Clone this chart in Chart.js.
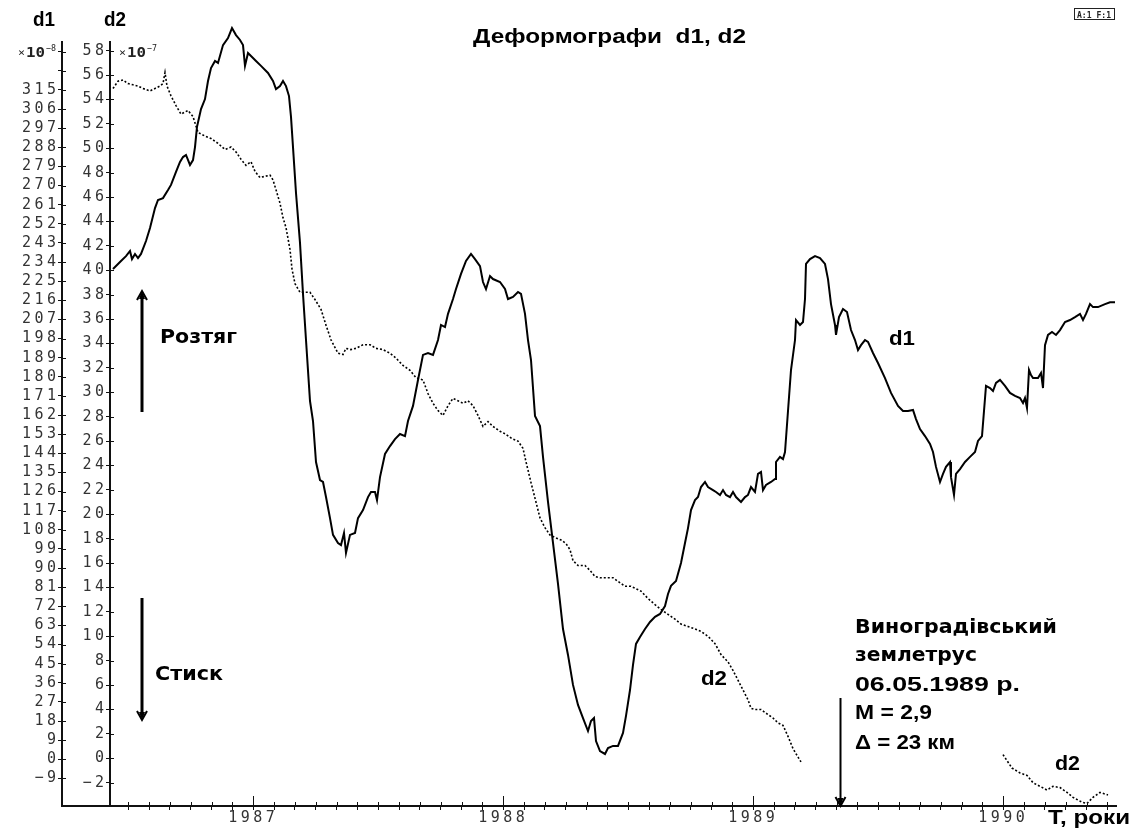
<!DOCTYPE html>
<html lang="uk">
<head>
<meta charset="utf-8">
<title>Деформографи d1, d2</title>
<script src="https://cdn.jsdelivr.net/npm/chart.js@4.4.1/dist/chart.umd.min.js"></script>
<style>
html, body { margin:0; padding:0; background:#fff; }
#wrap { width:1133px; height:832px; }
</style>
</head>
<body>
<div id="wrap"><canvas id="grafico" width="1133" height="832"></canvas></div>
<script>
// ==========================
// DADOS
// ==========================
const d1Years = [
    1986.439,1986.471,1986.491,1986.507,1986.515,1986.527,1986.539,1986.551,1986.571,1986.587,
    1986.607,1986.619,1986.639,1986.659,1986.671,1986.691,1986.707,1986.719,1986.731,1986.747,
    1986.759,1986.767,1986.775,1986.791,1986.807,1986.819,1986.831,1986.847,1986.859,1986.879,
    1986.899,1986.915,1986.931,1986.947,1986.959,1986.967,1986.979,1986.991,1987.011,1987.031,
    1987.059,1987.079,1987.091,1987.107,1987.119,1987.131,1987.143,1987.151,1987.159,1987.171,
    1987.187,1987.199,1987.211,1987.227,1987.239,1987.251,1987.267,1987.279,1987.291,1987.307,
    1987.319,1987.339,1987.351,1987.363,1987.371,1987.387,1987.407,1987.419,1987.439,1987.459,
    1987.471,1987.487,1987.495,1987.507,1987.527,1987.547,1987.567,1987.587,1987.607,1987.619,
    1987.639,1987.659,1987.679,1987.699,1987.719,1987.739,1987.751,1987.767,1987.779,1987.799,
    1987.811,1987.831,1987.851,1987.871,1987.887,1987.907,1987.919,1987.931,1987.947,1987.959,
    1987.987,1988.007,1988.019,1988.039,1988.059,1988.071,1988.087,1988.099,1988.111,1988.127,
    1988.147,1988.159,1988.179,1988.199,1988.219,1988.239,1988.259,1988.279,1988.299,1988.319,
    1988.339,1988.351,1988.363,1988.371,1988.387,1988.407,1988.419,1988.439,1988.459,1988.479,
    1988.491,1988.507,1988.519,1988.531,1988.547,1988.567,1988.587,1988.607,1988.627,1988.647,
    1988.659,1988.671,1988.691,1988.711,1988.727,1988.739,1988.751,1988.767,1988.779,1988.791,
    1988.807,1988.819,1988.839,1988.851,1988.867,1988.879,1988.891,1988.907,1988.919,1988.931,
    1988.951,1988.967,1988.979,1988.991,1989.007,1989.019,1989.031,1989.039,1989.051,1989.071,
    1989.087,1989.091,1989.107,1989.119,1989.127,1989.139,1989.151,1989.167,1989.171,1989.187,
    1989.199,1989.207,1989.211,1989.227,1989.247,1989.267,1989.287,1989.299,1989.311,1989.327,
    1989.331,1989.343,1989.359,1989.375,1989.391,1989.407,1989.419,1989.431,1989.447,1989.459,
    1989.479,1989.499,1989.527,1989.551,1989.579,1989.599,1989.619,1989.639,1989.651,1989.667,
    1989.687,1989.707,1989.719,1989.731,1989.747,1989.759,1989.771,1989.787,1989.791,1989.803,
    1989.811,1989.827,1989.847,1989.867,1989.887,1989.899,1989.915,1989.923,1989.931,1989.947,
    1989.959,1989.971,1989.987,1990.007,1990.027,1990.047,1990.067,1990.079,1990.087,1990.095,
    1990.103,1990.111,1990.119,1990.139,1990.151,1990.159,1990.167,1990.179,1990.195,1990.211,
    1990.227,1990.247,1990.267,1990.287,1990.307,1990.319,1990.331,1990.347,1990.359,1990.379,
    1990.407,1990.427,1990.447
];

const d1Values = [
    230.7,234.5,236.8,239.2,235.4,237.8,235.9,237.8,243.9,250.0,
    259.4,263.2,264.1,267.9,270.3,276.4,281.1,283.4,284.4,279.7,
    282.0,288.1,297.6,306.0,310.7,319.2,325.3,328.6,327.7,336.1,
    339.4,344.1,340.8,338.5,336.1,326.3,332.4,331.0,328.6,326.3,
    323.0,319.2,315.4,316.8,319.2,316.8,312.1,302.3,288.1,266.5,
    243.0,219.0,197.3,168.6,159.2,139.9,131.4,130.5,123.4,113.5,
    105.6,101.8,100.8,106.5,97.1,105.6,106.5,113.5,117.3,123.4,
    125.8,125.8,122.0,132.8,143.7,147.4,150.7,153.1,152.1,159.2,
    166.3,178.5,190.3,191.2,190.3,197.3,204.4,203.4,209.6,216.6,
    221.3,228.4,234.5,237.8,235.4,232.1,224.6,221.3,227.4,226.0,
    224.6,221.3,216.6,217.6,219.9,219.0,209.6,197.3,187.9,161.6,
    156.8,142.3,121.1,101.8,82.5,61.3,49.1,35.0,25.6,19.4,
    13.3,18.0,19.4,8.6,3.9,2.5,5.3,6.3,6.3,12.4,
    20.4,32.6,44.4,54.3,57.6,61.3,64.6,67.0,68.4,72.1,
    77.8,81.6,83.9,92.4,101.8,108.8,117.3,122.0,123.4,128.1,
    130.5,128.1,126.7,125.8,124.4,126.7,124.4,123.4,125.8,123.4,
    121.1,123.4,124.4,128.1,125.8,134.3,135.2,126.7,129.1,130.5,
    131.9,139.9,142.3,141.3,144.6,163.9,183.2,197.3,206.7,204.4,
    205.8,216.6,233.1,235.4,236.8,235.9,233.1,226.0,214.2,204.4,
    199.7,208.1,211.9,210.5,202.0,197.3,192.6,194.9,197.3,196.4,
    191.2,186.5,179.4,172.4,166.3,163.9,163.9,164.4,160.1,155.4,
    152.1,148.4,144.6,137.6,130.5,134.3,137.6,139.9,132.8,124.4,
    134.3,136.6,139.9,142.3,144.6,149.8,152.1,163.9,175.7,174.7,
    173.3,177.1,178.5,175.7,172.4,171.0,170.0,167.7,170.0,165.3,
    183.2,180.8,179.4,179.4,181.8,174.7,194.9,199.7,201.1,199.7,
    202.0,205.8,206.7,208.1,209.6,206.7,209.6,214.2,212.8,212.8,
    214.2,215.1,215.1
];

const d2Years = [
    1986.439,1986.459,1986.479,1986.499,1986.519,1986.539,1986.559,1986.587,1986.607,1986.627,
    1986.639,1986.647,1986.655,1986.671,1986.691,1986.711,1986.739,1986.759,1986.779,1986.807,
    1986.831,1986.859,1986.887,1986.911,1986.931,1986.951,1986.971,1986.991,1987.007,1987.027,
    1987.047,1987.067,1987.079,1987.091,1987.107,1987.119,1987.131,1987.147,1987.155,1987.167,
    1987.187,1987.207,1987.227,1987.247,1987.271,1987.291,1987.311,1987.339,1987.359,1987.371,
    1987.391,1987.411,1987.439,1987.467,1987.491,1987.519,1987.547,1987.571,1987.599,1987.627,
    1987.651,1987.679,1987.699,1987.719,1987.739,1987.759,1987.779,1987.799,1987.819,1987.839,
    1987.859,1987.879,1987.899,1987.919,1987.939,1987.959,1987.987,1988.007,1988.035,1988.059,
    1988.079,1988.091,1988.111,1988.131,1988.147,1988.167,1988.187,1988.207,1988.231,1988.251,
    1988.267,1988.279,1988.299,1988.327,1988.347,1988.367,1988.387,1988.411,1988.439,1988.459,
    1988.487,1988.511,1988.531,1988.551,1988.579,1988.607,1988.631,1988.659,1988.687,1988.711,
    1988.739,1988.767,1988.791,1988.819,1988.847,1988.871,1988.899,1988.919,1988.939,1988.959,
    1988.979,1988.991,1989.007,1989.031,1989.051,1989.079,1989.099,1989.119,1989.139,1989.159,
    1989.179,1989.191,
    1989.600,
    1989.999,1990.035,1990.067,1990.095,1990.119,1990.147,1990.175,1990.199,1990.227,1990.255,
    1990.279,1990.315,1990.335,1990.359,1990.387,1990.419
];

const d2Values = [
    54.9,55.5,55.6,55.3,55.2,55.1,54.9,54.7,54.9,55.1,
    55.3,56.2,55.1,54.3,53.5,52.8,53.1,52.6,51.3,51.0,
    50.8,50.4,49.9,50.1,49.7,49.1,48.6,48.9,48.1,47.6,
    47.7,47.8,47.4,46.6,45.5,44.3,43.5,41.7,40.1,38.9,
    38.2,38.2,38.2,37.6,36.8,35.5,34.3,33.2,33.1,33.6,
    33.5,33.6,33.9,33.9,33.6,33.5,33.2,32.8,32.2,31.8,
    31.2,31.0,29.9,29.1,28.5,28.1,28.9,29.5,29.3,29.1,
    29.3,28.9,28.1,27.2,27.6,27.2,26.8,26.6,26.2,26.0,
    25.4,24.3,22.6,21.0,19.7,18.9,18.3,18.1,17.9,17.6,
    17.1,16.2,15.8,15.8,15.4,14.9,14.8,14.8,14.8,14.5,
    14.1,14.1,13.9,13.7,13.1,12.6,12.2,11.8,11.4,11.0,
    10.8,10.6,10.4,10.0,9.4,8.5,7.9,7.2,6.4,5.6,
    4.8,4.1,4.0,4.0,3.7,3.3,2.9,2.7,1.8,0.8,
    0.1,-0.3,
    null,
    0.3,-0.8,-1.2,-1.4,-2.0,-2.3,-2.6,-2.3,-2.4,-2.8,
    -3.2,-3.6,-3.7,-3.2,-2.8,-3.0
];

const yearLabels = [1987, 1988, 1989, 1990];

const d1TickValues = [
    -9,0,9,18,27,36,45,54,63,72,81,90,99,108,117,126,135,144,153,
    162,171,180,189,198,207,216,225,234,243,252,261,270,279,288,297,306,315,
    324,333
];

const d2TickValues = [
    -2,0,2,4,6,8,10,12,14,16,18,20,22,24,26,28,
    30,32,34,36,38,40,42,44,46,48,50,52,54,56,58
];

// 06.05.1989
const quakeDate = 1989.345;

// ==========================
// AUXILIARES
// ==========================
const fonteTicks = { family:"'DejaVu Sans Mono', monospace", size:15 };

function ehAno(v){
    return Math.abs(v - Math.round(v)) < 1e-6;
}

function mesesTicks(){
    // marcas mensais de jul/1986 a mai/1990
    const lista = [];
    for(let m = 6; m <= 53; m++){
        lista.push({ value: 1986 + m / 12 });
    }
    return lista;
}

// texto esticado na horizontal ate a largura pedida
function texto(ctx, str, x, y, font, largura){
    ctx.save();
    ctx.font = font;
    const w = ctx.measureText(str).width;
    const sx = largura ? largura / w : 1;
    ctx.translate(x, y);
    ctx.scale(sx, 1);
    ctx.textAlign = "left";
    ctx.textBaseline = "alphabetic";
    ctx.fillText(str, 0, 0);
    ctx.restore();
}

// "×10" com expoente
function potencia(ctx, exp, x, y){
    ctx.save();
    ctx.fillStyle = "#222";
    texto(ctx, "×", x, y, "10px 'DejaVu Sans Mono', monospace", 7);
    texto(ctx, "10", x + 8, y + 1, "bold 14px 'DejaVu Sans Mono', monospace", 19);
    texto(ctx, exp, x + 28, y - 5, "9px 'DejaVu Sans Mono', monospace", 10);
    ctx.restore();
}

function seta(ctx, x, y0, y1, lw){
    const dir = Math.sign(y1 - y0);
    ctx.save();
    ctx.strokeStyle = "#000";
    ctx.fillStyle = "#000";
    ctx.lineWidth = lw;
    ctx.beginPath();
    ctx.moveTo(x, y0);
    ctx.lineTo(x, y1 - dir * 3);
    ctx.stroke();
    ctx.lineWidth = 2;
    ctx.beginPath();
    ctx.moveTo(x - 5, y1 - dir * 9);
    ctx.lineTo(x, y1);
    ctx.lineTo(x + 5, y1 - dir * 9);
    ctx.stroke();
    ctx.beginPath();
    ctx.moveTo(x, y1);
    ctx.lineTo(x - 3, y1 - dir * 8);
    ctx.lineTo(x + 3, y1 - dir * 8);
    ctx.closePath();
    ctx.fill();
    ctx.restore();
}

// ==========================
// PLUGIN DESENHO
// ==========================
const desenho = {
    id: "desenho",

    beforeDraw(chart){
        chart.ctx.letterSpacing = "3.5px";
    },

    afterDraw(chart){

        const ctx = chart.ctx;
        ctx.letterSpacing = "0px";

        const { x, d1, d2 } = chart.scales;
        const area = chart.chartArea;

        ctx.save();
        ctx.strokeStyle = "#111";
        ctx.lineWidth = 1;

        // metade interna das marcas (cruz)
        [d1, d2].forEach(s => {
            s.ticks.forEach(t => {
                const y = Math.round(s.getPixelForValue(t.value)) + 0.5;
                ctx.beginPath();
                ctx.moveTo(s.right, y);
                ctx.lineTo(s.right + 4, y);
                ctx.stroke();
            });
        });

        x.ticks.forEach(t => {
            const px = Math.round(x.getPixelForValue(t.value)) + 0.5;
            const h = ehAno(t.value) ? 10 : 4;
            ctx.beginPath();
            ctx.moveTo(px, area.bottom);
            ctx.lineTo(px, area.bottom - h);
            ctx.stroke();
        });

        // eixo x continua ate o eixo d1
        ctx.lineWidth = 2;
        ctx.beginPath();
        ctx.moveTo(d1.right - 1, area.bottom);
        ctx.lineTo(area.left, area.bottom);
        ctx.stroke();
        ctx.restore();

        ctx.fillStyle = "#000";

        const negrito = "bold 20px 'Liberation Sans', Arial, sans-serif";
        const largo = "bold 19px 'DejaVu Sans', sans-serif";

        // titulos
        texto(ctx, "Деформографи  d1, d2", 473, 43, "bold 21px 'Liberation Sans', Arial, sans-serif", 273);
        texto(ctx, "d1", 33, 26, negrito, 22);
        texto(ctx, "d2", 104, 26, negrito, 22);

        // multiplicadores das escalas
        potencia(ctx, "−8", 18, 56);
        potencia(ctx, "−7", 119, 56);

        // caixa A:1 F:1
        ctx.save();
        ctx.strokeStyle = "#222";
        ctx.lineWidth = 1;
        ctx.strokeRect(1074.5, 8.5, 40, 11);
        ctx.restore();
        ctx.fillStyle = "#222";
        texto(ctx, "A:1 F:1", 1077, 17.5, "bold 9px 'DejaVu Sans Mono', monospace", 34);

        ctx.fillStyle = "#000";

        // setas Розтяг / Стиск
        seta(ctx, 142, 412, 291, 3);
        texto(ctx, "Розтяг", 160, 343, largo, 77);

        seta(ctx, 142, 598, 720, 3);
        texto(ctx, "Стиск", 155, 680, largo, 68);

        // rotulos das curvas
        texto(ctx, "d1", 889, 345, negrito, 26);
        texto(ctx, "d2", 701, 685, negrito, 26);
        texto(ctx, "d2", 1055, 770, negrito, 25);

        // terremoto
        const qx = Math.round(x.getPixelForValue(quakeDate)) + 0.5;
        seta(ctx, qx, 698, area.bottom, 2);

        texto(ctx, "Виноградівський", 855, 633, largo, 202);
        texto(ctx, "землетрус", 855, 661, largo, 122);
        texto(ctx, "06.05.1989 р.", 855, 691, negrito, 165);
        texto(ctx, "M = 2,9", 855, 719, negrito, 77);
        texto(ctx, "Δ = 23 км", 855, 749, negrito, 100);

        // titulo do eixo x
        texto(ctx, "T, роки", 1048, 824, negrito, 82);
    }
};

// ==========================
// GRAFICO
// ==========================
const ctx =
document
    .getElementById("grafico")
    .getContext("2d");

new Chart(ctx, {

    type: "line",

    data: {
        datasets: [
            {
                label: "d1",
                data: d1Years.map((ano, i) => ({ x: ano, y: d1Values[i] })),
                yAxisID: "d1",
                borderColor: "#000",
                borderWidth: 2,
                pointRadius: 0,
                tension: 0,
                clip: false
            },
            {
                label: "d2",
                data: d2Years.map((ano, i) => ({ x: ano, y: d2Values[i] })),
                yAxisID: "d2",
                borderColor: "#000",
                borderWidth: 1.6,
                borderDash: [2, 2],
                pointRadius: 0,
                tension: 0,
                spanGaps: false,
                clip: false
            }
        ]
    },

    options: {

        responsive: false,
        animation: false,
        events: [],

        layout: {
            padding: { top: 42, right: 17, bottom: 0, left: 0 }
        },

        plugins: {
            legend: { display: false },
            tooltip: { enabled: false }
        },

        scales: {

            x: {
                type: "linear",
                min: 1986.427,
                max: 1990.451,
                afterBuildTicks: s => { s.ticks = mesesTicks(); },
                afterFit: s => { s.height = 26; },
                ticks: {
                    autoSkip: false,
                    maxRotation: 0,
                    padding: -1,
                    font: fonteTicks,
                    color: "#333",
                    callback: v => ehAno(v) && yearLabels.includes(Math.round(v)) ? String(Math.round(v)) : ""
                },
                grid: { drawOnChartArea: false, tickLength: 4, color: "#111", lineWidth: 1 },
                border: { color: "#111", width: 2 }
            },

            d1: {
                type: "linear",
                position: "left",
                weight: 2,
                min: -21.98,
                max: 337.55,
                afterBuildTicks: s => { s.ticks = d1TickValues.map(v => ({ value: v })); },
                afterFit: s => { s.width = 62; },
                ticks: {
                    autoSkip: false,
                    padding: -1.5,
                    font: fonteTicks,
                    color: "#333",
                    callback: v => v >= 324 ? "" : String(v).replace("-", "−")
                },
                grid: { drawOnChartArea: false, tickLength: 4, color: "#111", lineWidth: 1 },
                border: { color: "#111", width: 2 }
            },

            d2: {
                type: "linear",
                position: "left",
                weight: 1,
                min: -3.91,
                max: 58.71,
                afterBuildTicks: s => { s.ticks = d2TickValues.map(v => ({ value: v })); },
                afterFit: s => { s.width = 48; },
                ticks: {
                    autoSkip: false,
                    padding: -1.5,
                    font: fonteTicks,
                    color: "#333",
                    callback: v => String(v).replace("-", "−")
                },
                grid: { drawOnChartArea: false, tickLength: 4, color: "#111", lineWidth: 1 },
                border: { color: "#111", width: 2 }
            }
        }
    },

    plugins: [desenho]
});
</script>
</body>
</html>
